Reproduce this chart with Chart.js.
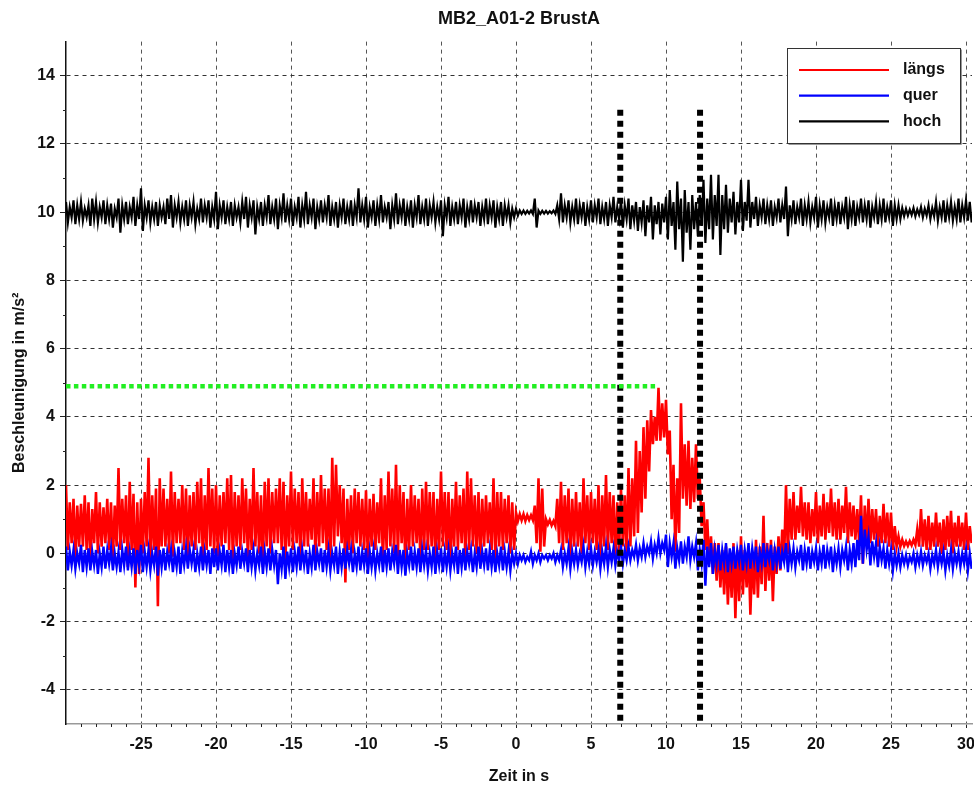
<!DOCTYPE html>
<html>
<head>
<meta charset="utf-8">
<title>MB2_A01-2 BrustA</title>
<script src="https://cdn.jsdelivr.net/npm/chart.js@4.4.1/dist/chart.umd.min.js"></script>
<style>
  html, body { margin: 0; padding: 0; background: #fff; }
  #wrap { width: 974px; height: 786px; }
</style>
</head>
<body>
<div id="wrap"><canvas id="accelChart" width="974" height="786"></canvas></div>
<script>
// one high/low pair per 0.25 s window, first window at -30 s (20 windows per row = 5 s)
const tStart = -30;
const tStep = 0.25;

// längs (red)
const laengsHi = [
  2.0, 1.5, 1.6, 1.4, 1.45, 1.7, 1.5, 1.3, 1.8, 1.5, 1.35, 1.6, 1.5, 1.4, 2.5, 1.6, 1.7, 2.1, 1.75, 1.5,
  1.6, 1.8, 2.8, 1.7, 1.9, 2.2, 1.9, 1.6, 2.4, 1.8, 1.6, 2.0, 1.9, 1.7, 1.8, 2.1, 2.2, 1.7, 2.5, 1.9,
  2.0, 1.7, 1.8, 2.2, 2.3, 1.8, 1.7, 2.2, 1.9, 1.6, 2.5, 1.8, 1.7, 2.1, 2.2, 1.8, 1.9, 2.2, 2.1, 1.7,
  2.4, 1.9, 1.8, 2.2, 1.8, 1.6, 2.2, 1.8, 2.3, 1.9, 1.9, 2.8, 2.6, 2.0, 1.9, 1.6, 1.7, 1.9, 1.8, 1.6,
  1.85, 1.6, 1.75, 1.5, 2.2, 1.7, 2.4, 1.9, 2.6, 2.0, 1.8, 1.6, 2.0, 1.7, 1.6, 1.9, 2.1, 1.8, 1.8, 1.6,
  2.4, 1.8, 1.8, 1.6, 2.1, 1.7, 1.9, 2.4, 2.2, 1.7, 1.8, 1.6, 1.7, 1.5, 2.2, 1.8, 1.8, 1.6, 1.7, 1.5,
  1.2, 1.15, 1.15, 1.12, 1.12, 1.4, 2.2, 1.9, 1.0, 0.98, 0.95, 1.6, 2.1, 1.7, 1.9, 1.6, 1.8, 1.5, 2.2, 1.7,
  1.8, 1.6, 2.0, 1.7, 2.3, 1.8, 1.7, 1.5, 1.9, 1.7, 2.5, 2.2, 3.3, 3.0, 3.7, 3.9, 4.2, 4.0, 4.85, 4.4,
  4.5, 3.6, 2.6, 2.2, 4.4, 3.2, 3.3, 2.8, 3.2, 2.2, 1.5, 1.0, 0.5, 0.3, 0.3, 0.1, 0.2, 0.0, 0.3, 0.1,
  0.5, 0.1, 0.2, 0.0, 0.4, 0.2, 1.1, 0.3, 0.4, 0.2, 0.5, 0.7, 2.0, 1.6, 1.8, 1.4, 1.95, 1.5, 1.5, 1.3,
  1.8, 1.4, 1.75, 1.5, 1.9, 1.5, 1.6, 1.4, 1.95, 1.5, 1.4, 1.3, 1.7, 1.4, 1.6, 1.3, 1.3, 1.1, 1.45, 1.2,
  1.2, 0.8, 0.5, 0.4, 0.35, 0.36, 0.4, 0.7, 1.3, 1.0, 1.1, 0.9, 1.2, 0.9, 1.0, 1.1, 1.25, 0.9, 1.1, 0.9,
  1.2, 0.8
];
const laengsLo = [
  0.1, 0.3, -0.2, 0.2, 0.2, 0.1, -0.3, 0.3, 0.0, 0.2, 0.3, 0.1, -0.2, 0.2, 0.1, 0.3, -0.4, 0.1, -1.0, -0.6,
  0.0, 0.2, -0.3, 0.1, -1.55, 0.2, 0.2, 0.0, -0.1, 0.3, 0.3, 0.1, -0.2, 0.2, 0.1, 0.3, -0.3, 0.1, 0.2, 0.0,
  -0.1, 0.2, 0.3, 0.1, -0.3, 0.2, 0.1, 0.3, -0.2, 0.1, 0.2, 0.0, -0.4, 0.2, 0.0, 0.3, 0.3, 0.1, -0.3, 0.2,
  0.1, 0.3, -0.2, 0.2, 0.2, 0.4, -0.1, 0.2, 0.3, 0.1, -0.3, 0.2, 0.5, 0.3, -0.85, 0.1, 0.0, 0.3, 0.2, 0.1,
  -0.2, 0.2, 0.1, 0.3, -0.3, 0.1, 0.2, 0.0, -0.1, 0.3, -0.5, 0.1, 0.2, 0.3, -0.2, 0.1, 0.1, 0.2, -0.3, 0.1,
  0.2, 0.1, -0.4, 0.2, 0.1, 0.3, -0.2, 0.1, 0.2, 0.0, -0.1, 0.2, 0.3, 0.1, -0.2, 0.2, 0.1, 0.3, 0.0, 0.1,
  0.95, 0.97, 0.95, 0.98, 0.98, 0.3, 0.05, 0.2, 0.85, 0.82, 0.8, 0.3, 0.1, 0.3, -0.1, 0.2, 0.2, 0.0, 0.3, 0.1,
  0.3, 0.1, -0.2, 0.2, 0.1, 0.3, -0.3, 0.1, 0.2, 0.0, 0.2, 0.5, 0.6, 1.2, 1.6, 2.4, 3.2, 3.3, 3.3, 3.4,
  2.9, 1.0, 0.05, 0.6, 1.6, 1.4, 1.3, 1.5, 1.6, 0.8, 0.1, -0.3, -0.6, -0.8, -1.0, -1.2, -1.5, -1.3, -1.9, -1.4,
  -1.2, -1.0, -1.8, -1.2, -1.3, -0.9, -1.1, -0.8, -1.4, -0.6, -0.5, -0.2, 0.0, 0.4, 0.4, 0.6, 0.5, 0.4, 0.3, 0.5,
  0.3, 0.5, 0.4, 0.6, 0.5, 0.4, 0.4, 0.6, 0.3, 0.5, 0.4, 0.3, -0.3, 0.3, 0.3, 0.4, 0.2, 0.3, 0.3, 0.2,
  0.1, 0.2, 0.2, 0.22, 0.22, 0.24, 0.25, 0.2, 0.2, 0.1, 0.1, 0.2, 0.2, 0.0, 0.1, 0.2, 0.0, 0.2, 0.2, 0.1,
  0.1, 0.3
];

// quer (blue)
const querHi = [
  0.2, 0.05, 0.1, 0.0, 0.25, 0.1, 0.15, 0.05, 0.1, 0.0, 0.2, 0.1, 0.15, 0.0, 0.05, 0.1, 0.2, 0.05, 0.15, 0.1,
  0.25, 0.05, 0.1, 0.0, 0.2, 0.1, 0.15, 0.05, 0.1, 0.0, 0.2, 0.05, 0.15, 0.1, 0.1, 0.0, 0.2, 0.05, 0.1, 0.15,
  0.15, 0.05, 0.25, 0.1, 0.1, 0.0, 0.2, 0.05, 0.15, 0.1, 0.1, 0.0, 0.2, 0.05, 0.15, 0.1, 0.1, 0.0, 0.2, 0.05,
  0.15, 0.05, 0.2, 0.1, 0.1, 0.0, 0.25, 0.05, 0.15, 0.1, 0.1, 0.0, 0.2, 0.05, 0.15, 0.1, 0.1, 0.0, 0.2, 0.05,
  0.15, 0.05, 0.1, 0.0, 0.2, 0.1, 0.15, 0.05, 0.25, 0.1, 0.1, 0.0, 0.2, 0.05, 0.15, 0.1, 0.1, 0.0, 0.2, 0.05,
  0.15, 0.05, 0.1, 0.0, 0.2, 0.1, 0.15, 0.05, 0.1, 0.0, 0.2, 0.05, 0.15, 0.1, 0.1, 0.0, 0.2, 0.05, 0.05, 0.0,
  0.0, -0.05, -0.05, -0.1, 0.05, -0.05, 0.0, -0.05, -0.05, -0.05, 0.0, -0.05, 0.1, 0.0, 0.15, 0.05, 0.1, 0.0, 0.2, 0.05,
  0.15, 0.05, 0.1, 0.05, 0.2, 0.1, 0.15, 0.05, 0.2, 0.1, 0.2, 0.1, 0.25, 0.15, 0.3, 0.2, 0.35, 0.25, 0.45, 0.3,
  0.55, 0.3, 0.3, 0.15, 0.35, 0.2, 0.5, 0.2, 0.3, 0.1, 0.4, 0.2, 0.3, 0.1, 0.25, 0.1, 0.3, 0.15, 0.2, 0.1,
  0.25, 0.1, 0.3, 0.15, 0.2, 0.05, 0.3, 0.1, 0.25, 0.1, 0.2, 0.05, 0.3, 0.1, 0.15, 0.05, 0.25, 0.1, 0.2, 0.05,
  0.15, 0.05, 0.25, 0.1, 0.2, 0.05, 0.15, 0.1, 0.2, 0.1, 0.3, 0.4, 1.1, 0.7, 0.5, 0.35, 0.3, 0.2, 0.15, 0.1,
  0.1, 0.0, 0.0, -0.05, -0.05, -0.1, 0.0, -0.05, 0.05, -0.05, 0.0, -0.05, 0.1, 0.0, 0.05, -0.05, 0.1, 0.0, 0.05, 0.0,
  0.1, 0.0
];
const querLo = [
  -0.5, -0.35, -0.45, -0.3, -0.55, -0.4, -0.5, -0.35, -0.6, -0.4, -0.45, -0.3, -0.5, -0.4, -0.55, -0.35, -0.5, -0.4, -0.6, -0.35,
  -0.55, -0.4, -0.5, -0.35, -0.65, -0.4, -0.5, -0.3, -0.55, -0.4, -0.6, -0.35, -0.45, -0.3, -0.55, -0.4, -0.5, -0.35, -0.6, -0.4,
  -0.5, -0.35, -0.55, -0.4, -0.6, -0.35, -0.45, -0.3, -0.55, -0.4, -0.5, -0.35, -0.6, -0.4, -0.5, -0.35, -0.9, -0.45, -0.75, -0.4,
  -0.55, -0.4, -0.5, -0.35, -0.6, -0.4, -0.5, -0.3, -0.55, -0.4, -0.5, -0.35, -0.6, -0.4, -0.45, -0.3, -0.55, -0.4, -0.5, -0.35,
  -0.6, -0.4, -0.5, -0.35, -0.55, -0.4, -0.5, -0.3, -0.6, -0.4, -0.65, -0.35, -0.5, -0.4, -0.55, -0.35, -0.5, -0.4, -0.6, -0.35,
  -0.55, -0.4, -0.5, -0.35, -0.6, -0.4, -0.5, -0.3, -0.55, -0.4, -0.45, -0.35, -0.5, -0.4, -0.55, -0.35, -0.5, -0.4, -0.5, -0.3,
  -0.3, -0.2, -0.25, -0.2, -0.3, -0.2, -0.25, -0.15, -0.2, -0.15, -0.25, -0.2, -0.4, -0.3, -0.45, -0.3, -0.35, -0.25, -0.4, -0.3,
  -0.35, -0.25, -0.45, -0.3, -0.4, -0.25, -0.35, -0.2, -0.3, -0.2, -0.2, -0.1, -0.2, -0.1, -0.1, 0.0, -0.15, 0.0, 0.0, 0.1,
  -0.4, -0.1, -0.45, -0.2, -0.3, -0.1, -0.2, -0.1, -0.5, -0.3, -0.95, -0.4, -0.6, -0.3, -0.5, -0.3, -0.55, -0.3, -0.45, -0.25,
  -0.5, -0.3, -0.45, -0.25, -0.55, -0.3, -0.4, -0.2, -0.5, -0.3, -0.45, -0.25, -0.55, -0.3, -0.4, -0.2, -0.5, -0.3, -0.45, -0.25,
  -0.5, -0.3, -0.45, -0.25, -0.55, -0.3, -0.4, -0.2, -0.5, -0.3, -0.4, -0.2, -0.3, 0.1, -0.35, -0.1, -0.4, -0.2, -0.45, -0.3,
  -0.5, -0.35, -0.4, -0.3, -0.35, -0.25, -0.4, -0.3, -0.35, -0.25, -0.45, -0.3, -0.4, -0.3, -0.5, -0.35, -0.45, -0.3, -0.4, -0.3,
  -0.5, -0.45
];

// hoch (black)
const hochHi = [
  10.3, 10.15, 10.35, 10.2, 10.3, 10.1, 10.2, 10.4, 10.3, 10.15, 10.35, 10.2, 10.25, 10.1, 10.4, 10.2, 10.3, 10.15, 10.45, 10.2,
  10.7, 10.2, 10.35, 10.15, 10.3, 10.2, 10.15, 10.4, 10.5, 10.2, 10.3, 10.15, 10.35, 10.2, 10.3, 10.1, 10.4, 10.2, 10.35, 10.15,
  10.6, 10.2, 10.35, 10.15, 10.3, 10.2, 10.15, 10.3, 10.45, 10.2, 10.35, 10.15, 10.3, 10.2, 10.5, 10.15, 10.4, 10.2, 10.55, 10.2,
  10.4, 10.15, 10.45, 10.2, 10.6, 10.2, 10.4, 10.15, 10.35, 10.2, 10.5, 10.15, 10.3, 10.2, 10.4, 10.15, 10.35, 10.2, 10.7, 10.2,
  10.45, 10.15, 10.35, 10.2, 10.5, 10.15, 10.3, 10.2, 10.55, 10.2, 10.4, 10.15, 10.35, 10.2, 10.5, 10.15, 10.4, 10.2, 10.3, 10.15,
  10.35, 10.2, 10.45, 10.15, 10.3, 10.2, 10.4, 10.15, 10.35, 10.2, 10.3, 10.15, 10.4, 10.2, 10.35, 10.15, 10.3, 10.2, 10.2, 10.1,
  10.1, 10.05, 10.05, 10.04, 10.05, 10.4, 10.05, 10.04, 10.04, 10.03, 10.05, 10.2, 10.55, 10.2, 10.35, 10.15, 10.4, 10.2, 10.3, 10.15,
  10.35, 10.2, 10.4, 10.15, 10.3, 10.2, 10.45, 10.15, 10.35, 10.2, 10.4, 10.2, 10.3, 10.15, 10.35, 10.2, 10.45, 10.2, 10.3, 10.25,
  10.45, 10.65, 10.3, 10.9, 10.4, 10.65, 10.3, 10.5, 10.3, 10.5, 10.95, 10.4, 11.1, 10.5, 11.1, 10.5, 10.8, 10.4, 10.6, 10.3,
  10.95, 10.3, 10.95, 10.3, 10.45, 10.2, 10.4, 10.2, 10.35, 10.15, 10.4, 10.2, 10.75, 10.2, 10.35, 10.15, 10.4, 10.2, 10.3, 10.15,
  10.45, 10.2, 10.35, 10.15, 10.4, 10.2, 10.3, 10.15, 10.45, 10.2, 10.35, 10.15, 10.4, 10.2, 10.35, 10.15, 10.3, 10.2, 10.4, 10.15,
  10.35, 10.2, 10.2, 10.12, 10.1, 10.08, 10.12, 10.08, 10.15, 10.1, 10.2, 10.12, 10.3, 10.15, 10.35, 10.2, 10.3, 10.15, 10.4, 10.2,
  10.35, 10.3
];
const hochLo = [
  9.7, 9.85, 9.65, 9.8, 9.75, 9.85, 9.6, 9.8, 9.7, 9.85, 9.65, 9.8, 9.55, 9.85, 9.4, 9.8, 9.65, 9.85, 9.6, 9.8,
  9.45, 9.85, 9.7, 9.8, 9.6, 9.85, 9.65, 9.8, 9.55, 9.85, 9.7, 9.8, 9.6, 9.85, 9.65, 9.8, 9.7, 9.85, 9.55, 9.8,
  9.5, 9.85, 9.65, 9.8, 9.6, 9.85, 9.7, 9.8, 9.55, 9.85, 9.35, 9.8, 9.6, 9.85, 9.65, 9.8, 9.5, 9.85, 9.7, 9.8,
  9.6, 9.85, 9.55, 9.8, 9.65, 9.85, 9.5, 9.8, 9.7, 9.85, 9.6, 9.8, 9.55, 9.85, 9.65, 9.8, 9.6, 9.85, 9.7, 9.8,
  9.55, 9.85, 9.6, 9.8, 9.7, 9.85, 9.5, 9.8, 9.65, 9.85, 9.6, 9.8, 9.55, 9.85, 9.65, 9.8, 9.6, 9.85, 9.7, 9.8,
  9.3, 9.85, 9.6, 9.8, 9.65, 9.85, 9.55, 9.8, 9.7, 9.85, 9.6, 9.8, 9.65, 9.85, 9.55, 9.8, 9.6, 9.85, 9.7, 9.85,
  9.9, 9.95, 9.95, 9.96, 9.95, 9.55, 9.95, 9.96, 9.96, 9.97, 9.95, 9.8, 9.7, 9.85, 9.7, 9.8, 9.65, 9.85, 9.6, 9.8,
  9.7, 9.85, 9.65, 9.8, 9.6, 9.85, 9.7, 9.8, 9.55, 9.8, 9.5, 9.75, 9.45, 9.7, 9.3, 9.7, 9.2, 9.65, 9.35, 9.7,
  9.2, 9.6, 8.9, 9.5, 8.55, 9.4, 8.9, 9.5, 9.3, 9.6, 9.1, 9.5, 9.2, 9.6, 8.75, 9.5, 9.4, 9.7, 9.35, 9.7,
  9.45, 9.75, 9.55, 9.8, 9.6, 9.85, 9.65, 9.8, 9.6, 9.85, 9.7, 9.8, 9.3, 9.8, 9.65, 9.85, 9.6, 9.8, 9.7, 9.85,
  9.55, 9.8, 9.7, 9.85, 9.6, 9.8, 9.65, 9.85, 9.5, 9.8, 9.6, 9.85, 9.7, 9.8, 9.55, 9.85, 9.65, 9.8, 9.7, 9.85,
  9.6, 9.8, 9.8, 9.88, 9.9, 9.92, 9.88, 9.92, 9.85, 9.9, 9.8, 9.88, 9.75, 9.85, 9.7, 9.85, 9.75, 9.8, 9.7, 9.85,
  9.75, 9.7
];

// axis ticks
const xTickValues = [-25, -20, -15, -10, -5, 0, 5, 10, 15, 20, 25, 30];
const yTickValues = [-4, -2, 0, 2, 4, 6, 8, 10, 12, 14];

// reference marks
const markerTimes = [6.95, 12.27]; // black dotted verticals
const markerTop = 13;
const limitValue = 4.9;            // green dotted level
const limitEnd = 9.5;

const yMin = -5, yMax = 15;
const xMin = -30, xMax = 30.4;

// high/low pairs -> trace points
function zigzag(hi, lo) {
  const pts = [];
  hi.forEach((h, i) => {
    const t = tStart + i * tStep;
    pts.push({ x: t, y: h });
    pts.push({ x: t + tStep / 2, y: lo[i] });
  });
  return pts;
}

const FONT = "'Liberation Sans', Arial, sans-serif";

// small ticks between the labelled ones
const minorTicks = {
  id: "minorTicks",
  afterDraw(chart) {
    const { ctx, chartArea } = chart;
    const x = chart.scales.x, y = chart.scales.y;
    ctx.save();
    ctx.strokeStyle = "#222";
    ctx.lineWidth = 1;
    ctx.beginPath();
    for (let v = Math.ceil(x.min); v <= x.max; v++) {
      if (v % 5 === 0 || v === x.min) continue;
      const px = Math.round(x.getPixelForValue(v)) + 0.5;
      ctx.moveTo(px, chartArea.bottom);
      ctx.lineTo(px, chartArea.bottom + 3);
    }
    for (let v = Math.ceil(y.min); v <= y.max; v++) {
      if (v % 2 === 0 || v === y.min || v === y.max) continue;
      const py = Math.round(y.getPixelForValue(v)) + 0.5;
      ctx.moveTo(chartArea.left - 3, py);
      ctx.lineTo(chartArea.left, py);
    }
    ctx.stroke();
    ctx.restore();
  },
};

// boxed legend in the top right corner
const boxLegend = {
  id: "boxLegend",
  afterDraw(chart) {
    const ctx = chart.ctx;
    const items = chart.data.datasets.slice(0, 3);
    const bx = 787.5, by = 48.5, bw = 173, bh = 95;
    ctx.save();
    ctx.fillStyle = "#fff";
    ctx.fillRect(bx, by, bw, bh);
    ctx.strokeStyle = "#333";
    ctx.lineWidth = 1;
    ctx.strokeRect(bx, by, bw, bh);
    ctx.beginPath();
    ctx.moveTo(bx + bw + 1, by + 1);
    ctx.lineTo(bx + bw + 1, by + bh + 1);
    ctx.lineTo(bx + 1, by + bh + 1);
    ctx.strokeStyle = "#999";
    ctx.stroke();
    items.forEach((ds, i) => {
      const ly = 70 + i * 25.7;
      ctx.strokeStyle = ds.borderColor;
      ctx.lineWidth = 2.2;
      ctx.beginPath();
      ctx.moveTo(799, ly);
      ctx.lineTo(889, ly);
      ctx.stroke();
      ctx.fillStyle = "#111";
      ctx.font = "bold 16px " + FONT;
      ctx.textBaseline = "middle";
      ctx.fillText(ds.label, 903, ly);
    });
    ctx.restore();
  },
};

const seriesStyle = {
  pointRadius: 0,
  borderWidth: 2.2,
  tension: 0,
  fill: false,
};

new Chart(document.getElementById("accelChart"), {
  type: "line",
  data: {
    datasets: [
      { ...seriesStyle, label: "längs", data: zigzag(laengsHi, laengsLo), borderColor: "#ff0000", borderWidth: 2.6, order: 2 },
      { ...seriesStyle, label: "quer", data: zigzag(querHi, querLo), borderColor: "#0000ff", borderWidth: 2.4, order: 1 },
      { ...seriesStyle, label: "hoch", data: zigzag(hochHi, hochLo), borderColor: "#000000", order: 3 },
      {
        label: "Grenze",
        data: [{ x: xMin, y: limitValue }, { x: limitEnd, y: limitValue }],
        borderColor: "#22ee22",
        borderWidth: 4.5,
        borderDash: [4.5, 3.4],
        pointRadius: 0,
        order: 0,
      },
      ...markerTimes.map((t) => ({
        label: "Marke",
        data: [{ x: t, y: markerTop }, { x: t, y: yMin }],
        borderColor: "#000",
        borderWidth: 6,
        borderDash: [6, 5],
        pointRadius: 0,
        order: 0,
      })),
    ],
  },
  options: {
    responsive: false,
    animation: false,
    events: [],
    layout: { padding: { left: 0, right: 2, top: 0, bottom: 0 } },
    plugins: {
      legend: { display: false },
      tooltip: { enabled: false },
      title: {
        display: true,
        fullSize: false,
        text: "MB2_A01-2 BrustA",
        color: "#111",
        font: { family: FONT, size: 18, weight: "bold" },
        padding: { top: 8, bottom: 12 },
      },
    },
    scales: {
      x: {
        type: "linear",
        min: xMin,
        max: xMax,
        afterBuildTicks: (s) => {
          s.ticks = xTickValues.map((v) => ({ value: v }));
        },
        afterFit: (s) => {
          s.height = 62;
          s.paddingLeft = 0;
          s.paddingRight = 0;
        },
        ticks: {
          maxRotation: 0,
          padding: 7,
          color: "#111",
          font: { family: FONT, size: 16, weight: "bold" },
        },
        grid: {
          color: "#555",
          lineWidth: 1,
          tickLength: 4,
          tickColor: "#222",
        },
        border: { color: "#999", width: 1.5, dash: [4, 4] },
        title: {
          display: true,
          text: "Zeit in s",
          color: "#111",
          font: { family: FONT, size: 16, weight: "bold" },
          padding: { top: 1, bottom: 0 },
        },
      },
      y: {
        min: yMin,
        max: yMax,
        afterBuildTicks: (s) => {
          s.ticks = yTickValues.map((v) => ({ value: v }));
        },
        afterFit: (s) => {
          s.width = 66;
          s.paddingTop = 0;
          s.paddingBottom = 0;
        },
        ticks: {
          padding: 5,
          color: "#111",
          font: { family: FONT, size: 16, weight: "bold" },
        },
        grid: {
          color: "#333",
          lineWidth: 1,
          tickLength: 6,
          tickColor: "#222",
        },
        border: { color: "#111", width: 1.5, dash: [4, 4] },
        title: {
          display: true,
          text: "Beschleunigung in m/s²",
          color: "#111",
          font: { family: FONT, size: 16, weight: "bold" },
          padding: { top: 10, bottom: 0 },
        },
      },
    },
  },
  plugins: [minorTicks, boxLegend],
});
</script>
</body>
</html>
